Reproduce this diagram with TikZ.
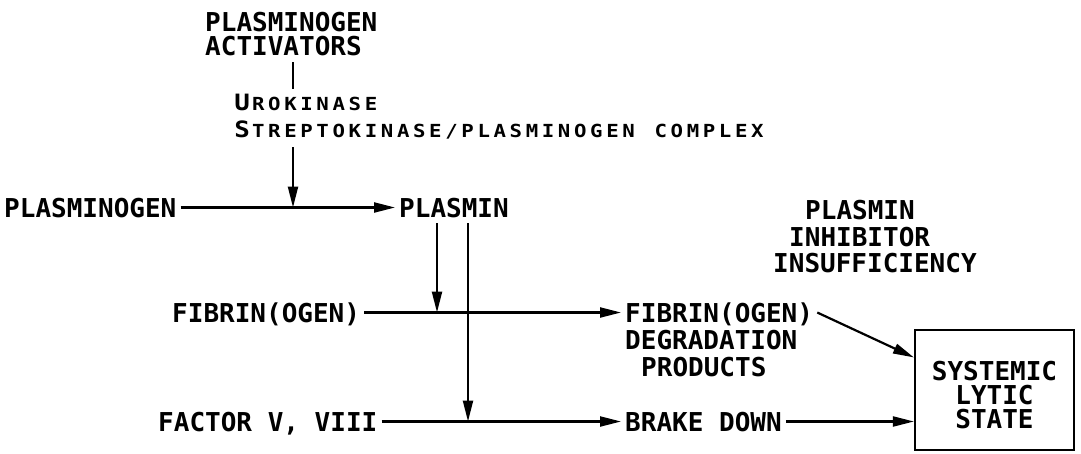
\documentclass[tikz,border=0pt]{standalone}
\usepackage{fontspec}
\usetikzlibrary{arrows.meta,calc}
\newfontfamily\mf{DejaVu Sans Mono}
\newfontfamily\scf[FakeStretch=1.15]{DejaVu Sans Mono}
\newcommand\spc[1]{\spci#1\relax}
\def\spci#1{\ifx#1\relax\else\makebox[16.1pt][c]{#1}\expandafter\spci\fi}
\newcommand\bigletter[1]{\makebox[16.1pt][c]{\fontsize{22.5}{22.5}\selectfont #1}}
\tikzset{
  txt/.style={font=\mf\bfseries\fontsize{26}{26}\selectfont, inner ysep=0pt, inner xsep=4pt,
    text height=19pt, text depth=0pt, anchor=base west},
  sctxt/.style={font=\scf\bfseries\fontsize{18}{18}\selectfont, inner sep=0pt, anchor=base west},
  ln/.style={line width=2.2pt},
  arr/.style={line width=2.2pt, -{Triangle[length=21pt,width=10pt]}},
  boxst/.style={draw, line width=2.2pt, minimum width=159pt, minimum height=120pt, inner sep=0pt}
}
\begin{document}
\begin{tikzpicture}[x=1pt,y=-1pt]
\useasboundingbox (0,0) rectangle (1081,453);
% top label
\node[txt] (pa1) at (201,31) {PLASMINOGEN};
\node[txt] (pa2) at (201,55) {ACTIVATORS};
\coordinate (t1) at (293,62);
\coordinate (t2) at (293,89);
\draw[ln] (t1) -- (t2);
\node[sctxt] (uro) at (234,110) {\bigletter{U}\spc{ROKINASE}};
\node[sctxt] (strep) at (234,137) {\bigletter{S}\spc{TREPTOKINASE/PLASMINOGEN~COMPLEX}};
% row 1
\node[txt] (pg) at (0,217) {PLASMINOGEN};
\node[txt] (pl) at (395,217) {PLASMIN};
\draw[arr] (pg.east) -- (pl.west);
\coordinate (s1) at (293,147);
\draw[arr] (s1) -- (s1 |- pg.east);
% inhibitor
\node[txt] (inh1) at (801,219) {PLASMIN};
\node[txt] (inh2) at (785,246) {INHIBITOR};
\node[txt] (inh3) at (769,272) {INSUFFICIENCY};
% row 2
\node[txt] (fib) at (168,322) {FIBRIN(OGEN)};
\node[txt] (fdp1) at (621,322) {FIBRIN(OGEN)};
\node[txt] (fdp2) at (621,349) {DEGRADATION};
\node[txt] (fdp3) at (637,376) {PRODUCTS};
\draw[arr] (fib.east) -- (fdp1.west);
% row 3
\node[txt] (fac) at (154,431) {FACTOR V, VIII};
\node[txt] (bd) at (621,431) {BRAKE DOWN};
\draw[arr] (fac.east) -- (bd.west);
% box
\node[boxst] (sys) at (994.5,390) {};
\node[txt, anchor=base] (sys1) at (994.5,380) {SYSTEMIC};
\node[txt, anchor=base] (sys2) at (994.5,404) {LYTIC};
\node[txt, anchor=base] (sys3) at (994.5,428) {STATE};
\draw[arr] (fdp1.east) -- (sys.158);
\draw[arr] (bd.east) -- (bd.east -| sys.west);
% plasmin arrows
\coordinate (a1) at (437,223);
\coordinate (a2) at (468,223);
\draw[arr] (a1) -- (a1 |- fib.east);
\draw[arr] (a2) -- (a2 |- fac.east);
\end{tikzpicture}
\end{document}
